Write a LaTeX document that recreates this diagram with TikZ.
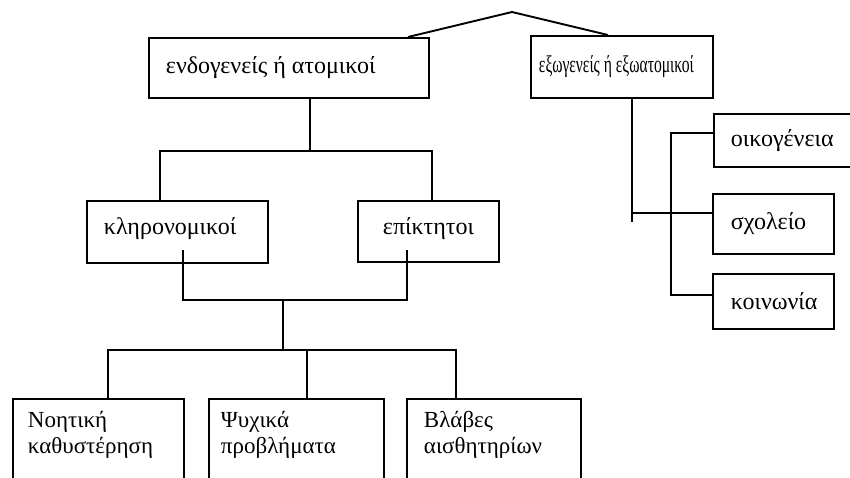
\documentclass[tikz,border=0pt]{standalone}
\usepackage{fontspec}
\usepackage{graphicx}
\setmainfont{Liberation Serif}
\usetikzlibrary{calc}
\begin{document}
\begin{tikzpicture}[x=1pt,y=-1pt,line width=1.9pt,
  box/.style={draw,rectangle,inner sep=0pt,anchor=north west},
  lbl/.style={anchor=west,inner sep=0pt,font=\fontsize{24}{24}\selectfont},
  two/.style={anchor=north west,inner sep=0pt,align=left,font=\fontsize{23}{26}\selectfont},
  conn/.style={line join=miter,line cap=butt}]
\useasboundingbox (0,0) rectangle (850,477);
\clip (0,0) rectangle (850,477);
% boxes
\node[box,minimum width=280pt,minimum height=60pt] (A) at (148,37) {};
\node[box,minimum width=182pt,minimum height=62pt] (B) at (530,35) {};
\node[box,minimum width=181pt,minimum height=62pt] (C) at (86,200) {};
\node[box,minimum width=141pt,minimum height=61pt] (D) at (357,200) {};
\node[box,minimum width=145pt,minimum height=53pt] (E) at (713,113) {};
\node[box,minimum width=121pt,minimum height=60pt] (F) at (712,193) {};
\node[box,minimum width=121pt,minimum height=55pt] (G) at (712,273) {};
\node[box,minimum width=171pt,minimum height=100pt] (H) at (12,398) {};
\node[box,minimum width=175pt,minimum height=100pt] (I) at (208,398) {};
\node[box,minimum width=174pt,minimum height=100pt] (J) at (406,398) {};
% texts
\node[lbl] (At) at ($(A.west)+(17,0)$) {ενδογενείς ή ατομικοί};
\node[lbl] (Bt) at ($(B.west)+(8,0)$) {\scalebox{0.65}[1]{εξωγενείς ή εξωατομικοί}};
\node[lbl] (Ct) at ($(C.west)+(17,-3)$) {κληρονομικοί};
\node[lbl] (Dt) at ($(D.west)+(25,-3)$) {επίκτητοι};
\node[lbl] (Et) at ($(E.west)+(17,0)$) {οικογένεια};
\node[lbl] (Ft) at ($(F.west)+(18,0)$) {σχολείο};
\node[lbl] (Gt) at ($(G.west)+(18,0)$) {κοινωνία};
\node[two] (Ht) at ($(H.north west)+(15,12)$) {Νοητική\\καθυστέρηση};
\node[two] (It) at ($(I.north west)+(12,12)$) {Ψυχικά\\προβλήματα};
\node[two] (Jt) at ($(J.north west)+(17,12)$) {Βλάβες\\αισθητηρίων};
% coordinates
\coordinate (apex) at (512,12);
\coordinate (j1) at (310,151);
\coordinate (j2) at (283,300);
\coordinate (j3) at (283,350);
\coordinate (rb) at (632,222);
% connectors
\draw[conn] ($(A.north west)+(260,0)$) -- (apex) -- ($(B.north west)+(78,0)$);
\draw[conn] (A.south -| j1) -- (j1);
\draw[conn] (C.north -| 160,0) -- (160,151) -- (432,151) -- (D.north -| 432,0);
\draw[conn] (183,250) -- (183,300) -- (407,300) -- (407,250);
\draw[conn] (j2) -- (j3);
\draw[conn] (H.north -| 108,0) -- (108,350) -- (456,350) -- (J.north -| 456,0);
\draw[conn] (I.north -| 307,0) -- (307,350);
\draw[conn] (B.south -| rb) -- (rb);
\draw[conn] (632,213) -- (F.west |- 0,213);
\draw[conn] (E.west |- 0,133) -- (671,133) -- (671,295) -- (G.west |- 0,295);
\end{tikzpicture}
\end{document}
